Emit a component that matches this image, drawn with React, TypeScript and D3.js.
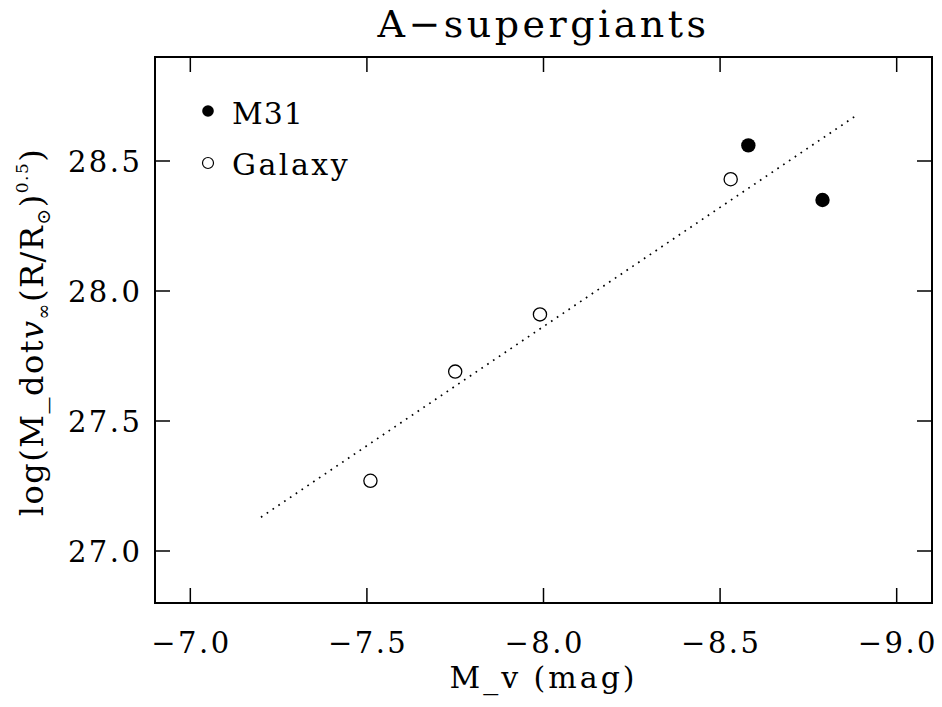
import React from "react";
import * as d3 from "d3";

const m31X = [-8.58, -8.79];
const m31Y = [28.56, 28.35];
const galaxyX = [-7.51, -7.75, -7.99, -8.53];
const galaxyY = [27.27, 27.69, 27.91, 28.43];
const fitX = [-7.2, -8.88];
const fitY = [27.13, 28.67];
const xTicks = [-7.0, -7.5, -8.0, -8.5, -9.0];
const yTicks = [27.0, 27.5, 28.0, 28.5];
const xDomain = [-6.9, -9.1];
const yDomain = [26.8, 28.9];

const W = 942;
const H = 707;
const L = 155, R = 932, T = 57, B = 603;
const FONT = "'DejaVu Serif', serif";

export default function App() {
  const x = d3.scaleLinear().domain(xDomain).range([L, R]);
  const y = d3.scaleLinear().domain(yDomain).range([B, T]);
  const line = d3.line<number>().x((d) => x(fitX[d])).y((d) => y(fitY[d]));
  const tick = 15;
  const fmt = (v: number) => (v < 0 ? "\u2212" : "") + Math.abs(v).toFixed(1);
  return (
    <svg width={W} height={H} style={{ position: "absolute", left: 0, top: 0, background: "#fff" }}>
      <rect x={0} y={0} width={W} height={H} fill="#fff" />
      {/* title */}
      <text x={(L + R) / 2} y={37} textAnchor="middle" fontFamily={FONT} fontSize={38} letterSpacing={3.5} fill="#000">
        A{"\u2212"}supergiants
      </text>
      {/* frame */}
      <rect x={L} y={T} width={R - L} height={B - T} fill="none" stroke="#000" strokeWidth={2} />
      {/* x ticks */}
      {xTicks.map((v) => (
        <g key={"xt" + v}>
          <line x1={x(v)} x2={x(v)} y1={B} y2={B - tick} stroke="#000" strokeWidth={1.5} />
          <line x1={x(v)} x2={x(v)} y1={T} y2={T + tick} stroke="#000" strokeWidth={1.5} />
          <text x={x(v) + 1.2} y={653} textAnchor="middle" fontFamily={FONT} fontSize={29} letterSpacing={2.5} fill="#000">
            {fmt(v)}
          </text>
        </g>
      ))}
      {yTicks.map((v) => (
        <g key={"yt" + v}>
          <line x1={L} x2={L + tick} y1={y(v)} y2={y(v)} stroke="#000" strokeWidth={1.5} />
          <line x1={R} x2={R - tick} y1={y(v)} y2={y(v)} stroke="#000" strokeWidth={1.5} />
          <text x={142.5} y={y(v) + 10.5} textAnchor="end" fontFamily={FONT} fontSize={29} letterSpacing={2.5} fill="#000">
            {fmt(v)}
          </text>
        </g>
      ))}
      {/* x label */}
      <text x={(L + R) / 2} y={688} textAnchor="middle" fontFamily={FONT} fontSize={30} letterSpacing={3} fill="#000">
        M_v (mag)
      </text>
      {/* y label */}
      <text
        transform={`translate(43, ${(T + B) / 2 + 2}) rotate(-90)`}
        textAnchor="middle"
        fontFamily={FONT}
        fontSize={32}
        letterSpacing={1.5}
        fill="#000"
      >
        log(M_dot
        <tspan fontStyle="italic">v</tspan>
        <tspan fontSize={19} dy={7}>{"\u221E"}</tspan>
        <tspan dy={-7}>(R/R</tspan>
        <tspan fontSize={19} dy={7}>{"\u2299"}</tspan>
        <tspan dy={-7}>)</tspan>
        <tspan fontSize={17} dy={-15}>0.5</tspan>
        <tspan dy={15}>)</tspan>
      </text>
      {/* fit line */}
      <path d={line([0, 1]) || ""} fill="none" stroke="#000" strokeWidth={1.7} strokeDasharray="1.7 5.3" />
      {/* galaxy points */}
      {galaxyX.map((v, i) => (
        <circle key={"g" + i} cx={x(v)} cy={y(galaxyY[i])} r={6.6} fill="#fff" stroke="#000" strokeWidth={1.3} />
      ))}
      {m31X.map((v, i) => (
        <circle key={"m" + i} cx={x(v)} cy={y(m31Y[i])} r={7.2} fill="#000" />
      ))}
      {/* legend */}
      <circle cx={208} cy={111} r={5.8} fill="#000" />
      <text x={232} y={124} fontFamily={FONT} fontSize={30} letterSpacing={1} fill="#000">M31</text>
      <circle cx={208} cy={163} r={5.5} fill="#fff" stroke="#000" strokeWidth={1.2} />
      <text x={232} y={175} fontFamily={FONT} fontSize={30} letterSpacing={2.5} fill="#000">Galaxy</text>
    </svg>
  );
}
